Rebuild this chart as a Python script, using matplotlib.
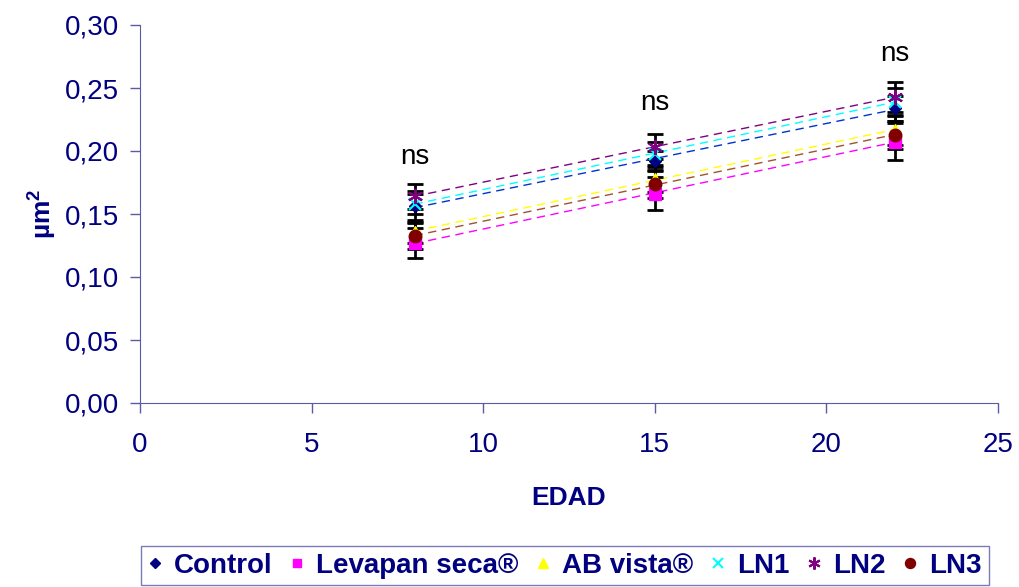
import numpy as np
import matplotlib.pyplot as plt

plt.rcParams['font.family'] = ['Liberation Sans', 'DejaVu Sans']
plt.rcParams['mathtext.fontset'] = 'custom'
plt.rcParams['mathtext.bf'] = 'Liberation Sans:bold'
plt.rcParams['mathtext.rm'] = 'Liberation Sans:bold'

edad = [8, 15, 22]
series = ["Control", "Levapan seca®", "AB vista®", "LN1", "LN2", "LN3"]
control = [0.156, 0.192, 0.234]
levapan = [0.127, 0.166, 0.2075]
ab_vista = [0.136, 0.1776, 0.2167]
ln1 = [0.158, 0.198, 0.239]
ln2 = [0.164, 0.2035, 0.2427]
ln3 = [0.1325, 0.1736, 0.2128]
sd_control = [0.012, 0.008, 0.010]
sd_levapan = [0.012, 0.013, 0.0145]
sd_ab_vista = [0.009, 0.010, 0.012]
sd_ln1 = [0.008, 0.009, 0.011]
sd_ln2 = [0.010, 0.010, 0.012]
sd_ln3 = [0.010, 0.011, 0.011]
ns_labels = ["ns", "ns", "ns"]
ns_y = [0.195, 0.238, 0.277]

navy = "#000080"
axis_col = "#5a5aa8"

values = [control, levapan, ab_vista, ln1, ln2, ln3]
sds = [sd_control, sd_levapan, sd_ab_vista, sd_ln1, sd_ln2, sd_ln3]
marker_col = [navy, "#ff00ff", "#ffff00", "#00ffff", "#800080", "#800000"]
trend_col = ["#0033cc", "#ff00ff", "#ffff00", "#00ffff", "#800080", "#a0522d"]
markers = ["D", "s", "^", "x", (6, 2, 0), "o"]
msizes = [6, 8, 9, 9, 11, 9]

fig = plt.figure(figsize=(10.19, 5.87), dpi=100)
ax = fig.add_axes([140/1019, 1-403/587, 858/1019, 378/587])

handles = []
for i, name in enumerate(series):
    y = np.array(values[i])
    ax.errorbar(edad, y, yerr=sds[i], fmt="none", ecolor="black",
                elinewidth=2, capsize=6, capthick=2, zorder=2)
    coef = np.polyfit(edad, y, 1)
    xs = np.array([edad[0], edad[-1]])
    ax.plot(xs, np.polyval(coef, xs), linestyle=(0, (6, 4)), color=trend_col[i],
            linewidth=1, zorder=1)
    mew = 1.5 if markers[i] in ("x",) or isinstance(markers[i], tuple) else 1
    h, = ax.plot(edad, y, linestyle="none", marker=markers[i], markersize=msizes[i],
                 color=marker_col[i], markeredgecolor=marker_col[i],
                 markeredgewidth=mew, zorder=3, label=name)
    handles.append(h)

for x, yy, t in zip(edad, ns_y, ns_labels):
    ax.text(x, yy, t, ha="center", va="center", fontsize=20, color="black")

ax.set_xlim(0, 25)
ax.set_ylim(0, 0.30)
ax.set_xticks([0, 5, 10, 15, 20, 25])
ax.set_yticks(np.arange(0, 0.31, 0.05))
ax.set_yticklabels([f"{v:.2f}".replace(".", ",") for v in np.arange(0, 0.31, 0.05)])
ax.tick_params(axis="both", colors=axis_col, labelcolor=navy, labelsize=20,
               length=7, width=1)
ax.tick_params(axis="x", pad=14)
ax.tick_params(axis="y", pad=8)
for s in ["top", "right"]:
    ax.spines[s].set_visible(False)
for s in ["left", "bottom"]:
    ax.spines[s].set_color(axis_col)

ax.set_xlabel("EDAD", fontsize=19, fontweight="bold", color=navy, labelpad=20)
ax.set_ylabel(r"µm$^{\mathbf{2}}$", fontsize=19, fontweight="bold", color=navy, labelpad=5)

leg = ax.legend(handles=handles, loc="center", bbox_to_anchor=(0.495, -0.43), ncol=6,
                frameon=True, fancybox=False, handlelength=0.5, handletextpad=0.45,
                columnspacing=0.62, borderpad=0.25, markerscale=0.8,
                prop={"size": 20, "weight": "bold"})
leg.get_frame().set_edgecolor(axis_col)
leg.get_frame().set_linewidth(1)
for t in leg.get_texts():
    t.set_color(navy)

fig.savefig("out.png", dpi=100)
